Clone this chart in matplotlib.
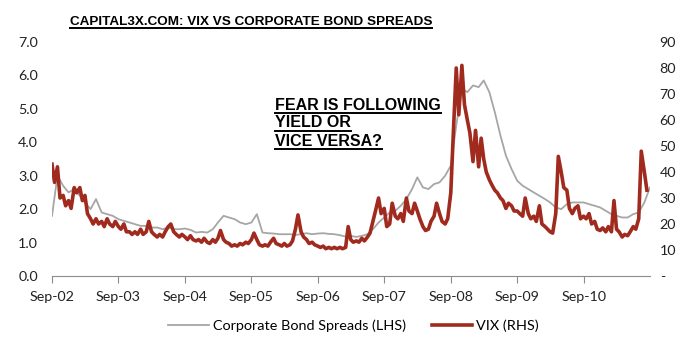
import numpy as np
import pandas as pd
import matplotlib
matplotlib.use('Agg')
import matplotlib.pyplot as plt
import matplotlib.dates as mdates
from matplotlib.lines import Line2D

# VIX, twice a month from Sep-02
vix = [43, 36, 42, 30, 31, 27, 29, 26, 34, 32, 34, 29, 31, 24, 22, 20, 22, 20, 21, 19, 22, 20, 19, 21,
       19, 18, 20, 17, 17, 16, 17, 16, 18, 16, 17, 21, 17, 16, 15, 16, 15, 17, 19, 20, 17, 16, 15, 16,
       15, 14, 15.5, 14, 13.5, 14, 13, 14.5, 13, 12.5, 14, 13, 14.5, 17.5, 14, 13, 12.5, 11.5, 12, 11.5, 12.5, 12, 13, 12.5,
       14, 16.5, 14, 12, 11.5, 12, 11.5, 13, 14.5, 12.5, 12, 11.5, 12.5, 11.5, 12, 13.5, 18, 23.5, 17, 15, 14, 12.5, 13, 12,
       11.5, 11, 11.5, 10.5, 11, 10.5, 11, 10.5, 11, 10.5, 11, 19, 14, 13, 13.5, 13, 14.5, 13.5, 15, 16.5, 21, 25, 30, 24,
       26, 19, 20, 28, 23, 22, 24, 21, 30, 25, 24, 28, 25, 22, 19, 17.5, 18, 21, 23, 28, 24, 21, 20, 22,
       32, 55, 80, 62, 81, 66, 60, 55, 44, 56, 42, 53, 45, 40, 37, 35, 33, 32, 30, 29, 26, 28, 27, 25,
       25, 24, 23, 30, 24, 22, 23, 21, 27, 20, 19, 18, 17, 16.5, 24, 46, 40, 34, 33, 26, 24, 26, 27, 22,
       23, 22, 24, 20, 21, 18, 17.5, 18.5, 17, 19, 17, 29, 18, 17, 15, 16, 15.5, 17, 19, 18, 22, 48, 40, 33]

# corporate bond spreads, monthly from Sep-02
spreads = [1.8, 3.0, 2.7, 2.5, 2.6, 2.4, 2.2, 2.0, 2.3, 1.9, 1.85, 1.8,
           1.7, 1.65, 1.6, 1.55, 1.5, 1.5, 1.45, 1.45, 1.4, 1.45, 1.4, 1.4,
           1.42, 1.38, 1.3, 1.32, 1.3, 1.4, 1.6, 1.8, 1.75, 1.7, 1.6, 1.55,
           1.6, 1.85, 1.3, 1.28, 1.27, 1.25, 1.25, 1.25, 1.23, 1.25, 1.28, 1.25,
           1.27, 1.28, 1.26, 1.25, 1.22, 1.18, 1.2, 1.17, 1.2, 1.25, 1.4, 1.6,
           1.75, 1.9, 1.95, 2.1, 2.3, 2.6, 2.95, 2.65, 2.6, 2.75, 2.8, 3.0,
           3.3, 4.5, 5.6, 5.5, 5.7, 5.65, 5.85, 5.5, 4.9, 4.2, 3.6, 3.2,
           2.85, 2.7, 2.6, 2.5, 2.4, 2.3, 2.2, 2.05, 2.0, 2.15, 2.2, 2.2,
           2.2, 2.15, 2.1, 2.05, 1.95, 1.85, 1.8, 1.75, 1.75, 1.85, 1.9, 2.2, 2.65]

vix_dates = pd.date_range('2002-09-01', periods=len(vix), freq='SMS')
spread_dates = pd.date_range('2002-09-01', periods=len(spreads), freq='MS')

grey = '#A6A6A6'
red = '#A02A1E'
tick_font = 'Lato'

fig = plt.figure(figsize=(6.98, 3.42), dpi=100)
ax = fig.add_axes([52/698, 1-276/342, 598/698, 234/342])
ax2 = ax.twinx()

ax.plot(spread_dates, spreads, color=grey, lw=1.3, label='Corporate Bond Spreads (LHS)')
ax2.plot(vix_dates, vix, color=red, lw=2.6, label='VIX (RHS)')

ax.set_xlim(pd.Timestamp('2002-09-01'), pd.Timestamp('2011-09-01'))
ax.set_ylim(0, 7)
ax2.set_ylim(0, 90)
ax.set_yticks(np.arange(0, 7.1, 1))
ax.set_yticklabels(['%.1f' % v for v in np.arange(0, 7.1, 1)])
ax2.set_yticks(np.arange(0, 91, 10))
ax2.set_yticklabels(['-'] + [str(v) for v in range(10, 91, 10)])

ticks = [pd.Timestamp('%d-09-01' % y) for y in range(2002, 2011)]
ax.set_xticks(ticks)
ax.xaxis.set_major_formatter(mdates.DateFormatter('%b-%y'))

for a in (ax, ax2):
    for s in ('top', 'left', 'right'):
        a.spines[s].set_visible(False)
    a.spines['bottom'].set_color('#8C8C8C')
ax2.spines['bottom'].set_visible(False)

ax.tick_params(axis='x', direction='out', length=5, color='#8C8C8C', labelsize=10.3, pad=6)
ax.tick_params(axis='y', length=0, labelsize=10.3, pad=10)
ax2.tick_params(axis='y', length=0, labelsize=10.3, pad=7)
for lab in ax.get_xticklabels() + ax.get_yticklabels() + ax2.get_yticklabels():
    lab.set_fontfamily(tick_font)
    lab.set_color('#222222')

h1, l1 = ax.get_legend_handles_labels()
h2, l2 = ax2.get_legend_handles_labels()
fig.legend(h1 + h2, l1 + l2, loc='center', bbox_to_anchor=(0.5065, 0.047), ncol=2,
           frameon=False, handlelength=2.8, columnspacing=1.8, handletextpad=0.28,
           prop={'family': tick_font, 'size': 10.4})

# bold headings, underlined like the original (y = baseline in pixels from top)
heads = [('CAPITAL3X.COM: VIX VS CORPORATE BOND SPREADS', 70, 25, 9.7, 2.7),
         ('FEAR IS FOLLOWING', 275, 109.7, 11.5, 3.3),
         ('YIELD OR', 275, 127.5, 11.5, 3.3),
         ('VICE VERSA?', 275, 145.7, 11.5, 3.3)]
texts = []
for s, xp, yp, fs, off in heads:
    t = fig.text(xp/698, 1-yp/342, s, family='Liberation Sans', weight='bold',
                 size=fs, va='baseline')
    texts.append((t, yp + off))

fig.canvas.draw()
r = fig.canvas.get_renderer()
inv = fig.transFigure.inverted()
for t, yu in texts:
    bb = t.get_window_extent(r)
    x0 = inv.transform((bb.x0, 0))[0]
    x1 = inv.transform((bb.x1, 0))[0]
    fig.add_artist(Line2D([x0, x1], [1-yu/342, 1-yu/342], color='black', lw=1.4,
                          transform=fig.transFigure))

fig.savefig('out.png', dpi=100)
